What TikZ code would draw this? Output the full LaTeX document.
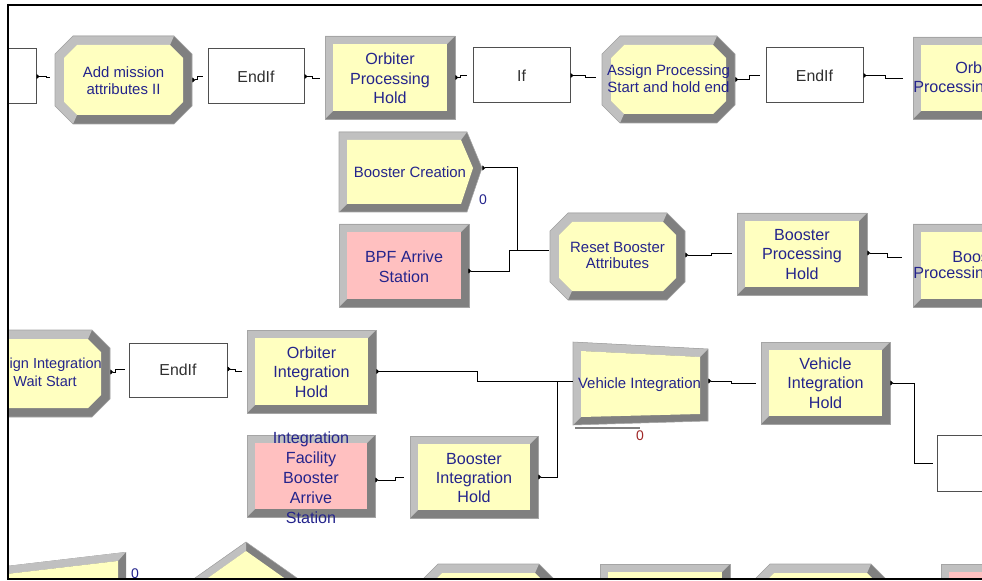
\documentclass[tikz,border=0pt]{standalone}
\usepackage{fontspec}
\setmainfont{Liberation Sans}
\usetikzlibrary{arrows.meta,fit}
\definecolor{modyellow}{RGB}{255,255,192}
\definecolor{modpink}{RGB}{255,192,192}
\definecolor{bvlightc}{RGB}{192,192,192}
\definecolor{bvdarkc}{RGB}{128,128,128}
\definecolor{bvedgec}{RGB}{165,165,165}
\definecolor{navytext}{RGB}{36,36,140}
\definecolor{cntred}{RGB}{160,40,40}
\definecolor{ifgray}{RGB}{48,48,48}
\tikzset{
  bvlight/.style={fill=bvlightc},
  bvdark/.style={fill=bvdarkc},
  bvedge/.style={draw=bvedgec, line width=0.4pt},
  modarea/.style={inner sep=0pt},
  modtext/.style={inner sep=0pt, align=center, text=navytext},
  holdfont/.style={font=\fontsize{12.1}{14.6}\selectfont},
  stafont/.style={font=\fontsize{12.1}{15}\selectfont},
  asgnfont/.style={font=\fontsize{11.2}{12.6}\selectfont},
  frag/.style={inner sep=0pt, text=navytext, font=\fontsize{12.1}{14.6}\selectfont},
  logicbox/.style={draw=ifgray!85, fill=white, line width=0.75pt, inner sep=0pt},
  logictext/.style={inner sep=0pt, text=ifgray, font=\fontsize{11.9}{14}\selectfont},
  conn/.style={draw=black, line width=0.75pt, {Triangle[reversed,length=2.3pt,width=3.8pt]}-},
  counter/.style={font=\fontsize{10.5}{12}\selectfont, inner sep=0pt},
  frameline/.style={draw=black, line width=1.8pt},
}
\newcommand\RectMod[5]{%
  \fill[bvdark] (#1,#2) rectangle (#3,#4);
  \fill[bvlight] (#1,#4) -- (#1,#2) -- (#3,#2) -- ({#3-8},{#2+8}) -- ({#1+8},{#2+8}) -- ({#1+8},{#4-8}) -- cycle;
  \fill[#5] ({#1+8},{#2+8}) rectangle ({#3-8},{#4-8});
  \draw[bvedge] (#1,#2) rectangle (#3,#4);
}
\newcommand\OctMod[5]{%
  \fill[bvdark] (#1,{#4-18}) -- (#1,{#2+18}) -- ({#1+18},#2) -- ({#3-18},#2) -- (#3,{#2+18}) -- (#3,{#4-18}) -- ({#3-18},#4) -- ({#1+18},#4) -- cycle;
  \fill[bvlight] ({#1+18},#4) -- (#1,{#4-18}) -- (#1,{#2+18}) -- ({#1+18},#2) -- ({#3-18},#2) -- ({#3-22},{#2+9}) -- ({#1+22},{#2+9}) -- ({#1+9},{#2+22}) -- ({#1+9},{#4-22}) -- ({#1+22},{#4-9}) -- cycle;
  \fill[#5] ({#1+9},{#4-22}) -- ({#1+9},{#2+22}) -- ({#1+22},{#2+9}) -- ({#3-22},{#2+9}) -- ({#3-9},{#2+22}) -- ({#3-9},{#4-22}) -- ({#3-22},{#4-9}) -- ({#1+22},{#4-9}) -- cycle;
  \draw[bvedge] (#1,{#4-18}) -- (#1,{#2+18}) -- ({#1+18},#2) -- ({#3-18},#2) -- (#3,{#2+18}) -- (#3,{#4-18}) -- ({#3-18},#4) -- ({#1+18},#4) -- cycle;
}
\begin{document}
\begin{tikzpicture}[x=0.75pt,y=-0.75pt]
\useasboundingbox (0,0) rectangle (982,581);
\fill[white] (0,0) rectangle (982,581);
\begin{scope}
\clip (9,6.5) rectangle (982,578);
% ---------- row 1 ----------
\node[logicbox, fit={(-60,49)(36,104)}] (b0) {};
\OctMod{55}{36}{192}{124}{modyellow}
\node[modarea, fit={(55,36)(192,124)}] (am) {};
\node[modtext, asgnfont] (amT) at (123.5,80.5) {Add mission\\attributes II};
\node[logicbox, fit={(208,49)(304,104)}] (e1) {};
\node[logictext] (e1T) at (256,76.5) {EndIf};
\RectMod{325}{36}{455}{119}{modyellow}
\node[modarea, fit={(325,36)(455,119)}] (oph) {};
\node[modtext, holdfont] (ophT) at (390,78.5) {Orbiter\\Processing\\Hold};
\node[logicbox, fit={(473,48)(570,103)}] (iff) {};
\node[logictext] (iffT) at (521.5,75.5) {If};
\OctMod{602}{36}{735}{123}{modyellow}
\node[modarea, fit={(602,36)(735,123)}] (ap) {};
\node[modtext, asgnfont] (apT) at (668.5,78.5) {Assign Processing\\Start and hold end};
\node[logicbox, fit={(766,48)(863,103)}] (e2) {};
\node[logictext] (e2T) at (814.5,75.5) {EndIf};
\RectMod{913}{37}{1043}{119}{modyellow}
\node[modarea, fit={(913,37)(1043,119)}] (orb) {};
\node[frag, anchor=west] (orbA) at (955,68) {Orbi};
\node[frag, anchor=west] (orbB) at (913,87) {Processin};
\node[counter, text=cntred] (orbC) at (986,132) {0};
% ---------- row 2 ----------
\fill[bvdark] (339,132) -- (467,132) -- (482,168) -- (467,212) -- (339,212) -- cycle;
\fill[bvlight] (339,212) -- (339,132) -- (467,132) -- (461,140) -- (347,140) -- (347,204) -- cycle;
\fill[modyellow] (347,140) -- (461,140) -- (473,168) -- (461,204) -- (347,204) -- cycle;
\draw[bvedge] (339,132) -- (467,132) -- (482,168) -- (467,212) -- (339,212) -- cycle;
\node[modarea, fit={(339,132)(482,212)}] (bc) {};
\node[modtext, asgnfont] (bcT) at (410,172) {Booster Creation};
\node[counter, text=navytext] (bcC) at (483,200) {0};
\RectMod{339}{224}{469}{307}{modpink}
\node[modarea, fit={(339,224)(469,307)}] (bpf) {};
\node[modtext, stafont] (bpfT) at (404,267) {BPF Arrive\\Station};
\OctMod{550}{213}{685}{300}{modyellow}
\node[modarea, fit={(550,213)(685,298)}] (rba) {};
\node[modtext, asgnfont] (rbaT) at (617.5,255.5) {Reset Booster\\Attributes};
\RectMod{737}{213}{867}{295}{modyellow}
\node[modarea, fit={(737,213)(867,295)}] (bph) {};
\node[modtext, holdfont] (bphT) at (802,254.5) {Booster\\Processing\\Hold};
\RectMod{913}{224}{1043}{307}{modyellow}
\node[modarea, fit={(913,224)(1043,307)}] (boos) {};
\node[frag, anchor=west] (boosA) at (952,257) {Boos};
\node[frag, anchor=west] (boosB) at (913,273) {Processin};
\node[counter, text=cntred] (boosC) at (987,318) {0};
% ---------- row 3 ----------
\OctMod{-23}{330}{110}{417}{modyellow}
\node[modarea, fit={(-23,330)(110,417)}] (ai) {};
\node[frag, font=\fontsize{10.9}{12.6}\selectfont, anchor=east] (aiA) at (102,365) {ign Integration};
\node[frag, font=\fontsize{10.9}{12.6}\selectfont, anchor=east] (aiB) at (77,381) {Wait Start};
\node[logicbox, fit={(129,343)(227,397)}] (e3) {};
\node[logictext] (e3T) at (178,370) {EndIf};
\RectMod{247}{330}{376}{413}{modyellow}
\node[modarea, fit={(247,330)(376,413)}] (oih) {};
\node[modtext, holdfont] (oihT) at (311.5,372) {Orbiter\\Integration\\Hold};
\fill[bvdark] (573,342) -- (708,349) -- (708,421) -- (573,425) -- cycle;
\fill[bvlight] (573,425) -- (573,342) -- (708,349) -- (700,357) -- (581,351) -- (581,417) -- cycle;
\fill[modyellow] (581,351) -- (700,357) -- (700,414) -- (581,417) -- cycle;
\draw[bvedge] (573,342) -- (708,349) -- (708,421) -- (573,425) -- cycle;
\node[modarea, fit={(573,342)(708,425)}] (vi) {};
\node[modtext, asgnfont] (viT) at (639.5,385) {Vehicle Integration};
\draw[bvdarkc, line width=1.5pt] (575,428) -- (640,428);
\node[counter, text=cntred] (viC) at (640,436) {0};
\RectMod{761}{342}{890}{424}{modyellow}
\node[modarea, fit={(761,342)(890,424)}] (vih) {};
\node[modtext, holdfont] (vihT) at (825.5,383) {Vehicle\\Integration\\Hold};
\node[logicbox, fit={(937,435)(1035,491)}] (rb) {};
% ---------- row 4 ----------
\RectMod{247}{435}{375}{517}{modpink}
\node[modarea, fit={(247,435)(375,517)}] (ifb) {};
\node[modtext, stafont] (ifbT) at (311,478) {Integration\\Facility\\Booster\\Arrive\\Station};
\RectMod{410}{436}{538}{518}{modyellow}
\node[modarea, fit={(410,436)(538,518)}] (bih) {};
\node[modtext, holdfont] (bihT) at (474,478) {Booster\\Integration\\Hold};
% ---------- bottom row (partly hidden) ----------
\fill[bvdark] (-10,568) -- (126,552) -- (126,600) -- (-10,600) -- cycle;
\fill[bvlight] (-10,568) -- (126,552) -- (118,561) -- (-10,576) -- cycle;
\fill[modyellow] (-10,576) -- (118,561) -- (118,600) -- (-10,600) -- cycle;
\node[counter, text=navytext] (sepC) at (135,574) {0};
\fill[bvdark] (161,602) -- (246,542) -- (331,602) -- cycle;
\fill[bvlight] (161,602) -- (246,542) -- (246,551) -- (174,602) -- cycle;
\fill[modyellow] (174,602) -- (246,551) -- (318,602) -- cycle;
\draw[bvedge] (161,602) -- (246,542) -- (331,602);
\OctMod{420}{564}{557}{650}{modyellow}
\RectMod{600}{564}{730}{647}{modyellow}
\OctMod{752}{564}{889}{650}{modyellow}
\RectMod{941}{564}{1071}{647}{modpink}
% ---------- connectors ----------
\draw[conn] (b0.east) -- ++(10,0) |- ([shift={(-5,-2)}]am.west);
\draw[conn] (am.east) -- ++(5,0) |- ([shift={(-5,0)}]e1.west);
\draw[conn] (e1.east) -- ++(8,0) |- ([shift={(-5,1)}]oph.west);
\draw[conn] (oph.east) -- ++(5,0) |- ([shift={(-6,0.5)}]iff.west);
\draw[conn] (iff.east) -- ++(15,0) |- ([shift={(-6,-1.5)}]ap.west);
\draw[conn] (ap.east) -- ++(14,0) |- ([shift={(-6,0.5)}]e2.west);
\draw[conn] (e2.east) -- ++(22,0) |- ([shift={(-10,1)}]orb.west);
\draw[conn] ([shift={(0,-4)}]bc.east) -- ++(35,0) |- ([shift={(-1,-5.5)}]rba.west);
\draw[conn] ([shift={(-1,5.5)}]bpf.east) -- ++(41,0) |- ([shift={(-1,-5.5)}]rba.west);
\draw[conn] ([shift={(0,-0.5)}]rba.east) -- ++(26,0) |- ([shift={(-5,-1)}]bph.west);
\draw[conn] ([shift={(0,-1)}]bph.east) -- ++(20,0) |- ([shift={(-11,-8.5)}]boos.west);
\draw[conn] ([shift={(0,-1.5)}]ai.east) -- ++(5,0) |- ([shift={(-4,-1)}]e3.west);
\draw[conn] ([shift={(0,-1)}]e3.east) -- ++(8,0) |- ([shift={(-5,-0.5)}]oih.west);
\draw[conn] (oih.east) -- ++(101,0) |- ([shift={(0,-2.5)}]vi.west);
\draw[conn] (bih.east) -| ([shift={(-15,-2.5)}]vi.west);
\draw[conn] ([shift={(0,4)}]ifb.east) -- ++(20,0) |- ([shift={(-6,0)}]bih.west);
\draw[conn] ([shift={(0,-2.5)}]vi.east) -- ++(23,0) |- ([shift={(-5,0)}]vih.west);
\draw[conn] (vih.east) -- ++(24,0) |- ([shift={(-4,0)}]rb.west);
\end{scope}
% ---------- frame ----------
\draw[frameline] (7.8,5.3) -- (982,5.3);
\draw[frameline] (7.8,4) -- (7.8,580);
\draw[frameline] (7.8,579) -- (982,579);
\end{tikzpicture}
\end{document}
